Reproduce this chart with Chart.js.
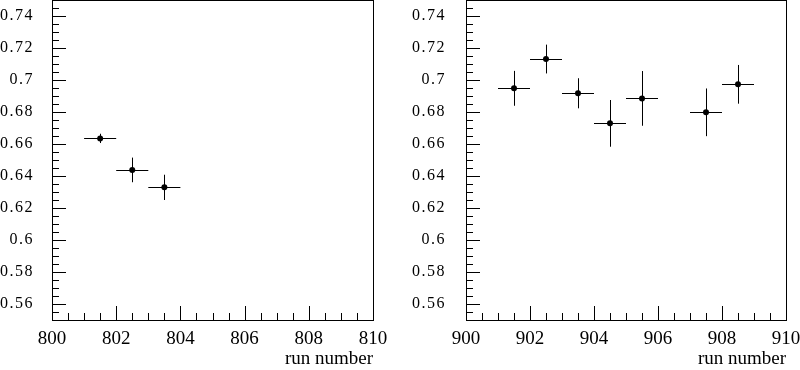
<!DOCTYPE html>
<html lang="en">
<head>
<meta charset="UTF-8">
<title>run number</title>
<script src="https://cdn.jsdelivr.net/npm/chart.js@4.4.1/dist/chart.umd.min.js"></script>
<style>
  body { margin: 0; background: #fff; overflow: hidden; }
  /* the library keeps a point-radius margin above the plot, shift it up by that */
  canvas { position: absolute; top: -3px; }
</style>
</head>
<body>

<canvas id="leftChart" width="400" height="373" style="left:0"></canvas>
<canvas id="rightChart" width="400" height="373" style="left:400px"></canvas>

<script>
// values
const yTicks = [0.56, 0.58, 0.6, 0.62, 0.64, 0.66, 0.68, 0.7, 0.72, 0.74];

const leftXTicks = [800, 802, 804, 806, 808, 810];
const leftRuns = [801.5, 802.5, 803.5];
const leftVals = [0.6635, 0.6438, 0.6329];
const leftErr = [0.0029, 0.0077, 0.0079];

const rightXTicks = [900, 902, 904, 906, 908, 910];
const rightRuns = [901.5, 902.5, 903.5, 904.5, 905.5, 907.5, 908.5];
const rightVals = [0.6948, 0.7131, 0.6917, 0.6729, 0.6885, 0.6798, 0.6973];
const rightErr = [0.0109, 0.0090, 0.0094, 0.0146, 0.0171, 0.0149, 0.0121];

const runHalfWidth = 0.5;

// frame, inward ticks and error bars
const framePlugin = {
  id: 'frame',
  beforeDatasetsDraw(chart) {
    const ctx = chart.ctx;
    const xs = chart.scales.x, ys = chart.scales.y;
    const ds = chart.data.datasets[0];
    ctx.save();
    ctx.strokeStyle = '#000';
    ctx.lineWidth = 1;
    ds.data.forEach((p, i) => {
      const px = Math.round(xs.getPixelForValue(p.x)) + 0.5;
      const py = Math.round(ys.getPixelForValue(p.y)) + 0.5;
      ctx.beginPath();
      ctx.moveTo(px, ys.getPixelForValue(p.y + ds.yErr[i]));
      ctx.lineTo(px, ys.getPixelForValue(p.y - ds.yErr[i]));
      ctx.moveTo(xs.getPixelForValue(p.x - runHalfWidth), py);
      ctx.lineTo(xs.getPixelForValue(p.x + runHalfWidth), py);
      ctx.stroke();
    });
    ctx.restore();
  },
  afterDraw(chart) {
    const ctx = chart.ctx;
    const a = chart.chartArea;
    const xs = chart.scales.x, ys = chart.scales.y;
    ctx.save();
    ctx.strokeStyle = '#000';
    ctx.lineWidth = 1;
    ctx.strokeRect(a.left + 0.5, a.top + 0.5, a.right - a.left, a.bottom - a.top);
    ctx.beginPath();
    for (let k = 0; k <= 40; k++) {
      const v = ys.min + k * 0.005;
      const major = yTicks.some(t => Math.abs(t - v) < 1e-6);
      const py = Math.round(ys.getPixelForValue(v)) + 0.5;
      ctx.moveTo(a.left, py);
      ctx.lineTo(a.left + (major ? 14 : 7), py);
    }
    const xTicks = chart.options.scales.x.majorTicks;
    for (let k = 0; k <= 20; k++) {
      const v = xs.min + k * 0.5;
      const major = xTicks.includes(v);
      const px = Math.round(xs.getPixelForValue(v)) + 0.5;
      ctx.moveTo(px, a.bottom);
      ctx.lineTo(px, a.bottom - (major ? 14 : 7));
    }
    ctx.stroke();
    ctx.restore();
  }
};

// y labels are set a bit wider in the original
function spaceLabels(s) {
  if (s._spaced) return;
  const draw = s.drawLabels.bind(s);
  s.drawLabels = area => {
    s.ctx.save();
    s.ctx.letterSpacing = '1.5px';
    draw(area);
    s.ctx.restore();
  };
  s._spaced = true;
}

function makePanel(id, runs, vals, errs, xTicks, axisWidth, labelPad, padRight) {
  return new Chart(document.getElementById(id), {
    type: 'scatter',
    data: {
      datasets: [{
        data: runs.map((r, i) => ({ x: r, y: vals[i] })),
        yErr: errs,
        pointRadius: 3,
        pointHoverRadius: 3,
        pointStyle: 'circle',
        pointBackgroundColor: '#000',
        pointBorderWidth: 0,
        borderWidth: 0,
        showLine: false
      }]
    },
    options: {
      responsive: false,
      animation: false,
      layout: { padding: { left: 0, right: padRight, top: 0, bottom: 0 } },
      plugins: { legend: { display: false }, tooltip: { enabled: false } },
      scales: {
        x: {
          type: 'linear',
          min: xTicks[0],
          max: xTicks[xTicks.length - 1],
          majorTicks: xTicks,
          grid: { display: false, drawTicks: false },
          border: { display: false },
          afterBuildTicks: s => { s.ticks = xTicks.map(v => ({ value: v })); },
          afterFit: s => { s.height = 50; s.paddingLeft = 0; s.paddingRight = 0; },
          ticks: {
            color: '#000',
            font: { family: 'Liberation Serif', size: 19 },
            padding: 8,
            maxRotation: 0,
            autoSkip: false,
            callback: v => String(v)
          },
          title: {
            display: true,
            text: 'run number',
            align: 'end',
            color: '#000',
            font: { family: 'Liberation Serif', size: 19 },
            padding: { top: 0, bottom: 0 }
          }
        },
        y: {
          min: 0.55,
          max: 0.75,
          grid: { display: false, drawTicks: false },
          border: { display: false },
          afterBuildTicks: s => { s.ticks = yTicks.map(v => ({ value: v })); },
          afterFit: s => {
            s.width = axisWidth; s.paddingTop = 0; s.paddingBottom = 0;
            spaceLabels(s);
          },
          ticks: {
            color: '#000',
            font: { family: 'Liberation Serif', size: 16 },
            padding: labelPad,
            callback: v => String(+v.toFixed(2))
          }
        }
      }
    },
    plugins: [framePlugin]
  });
}

makePanel('leftChart', leftRuns, leftVals, leftErr, leftXTicks, 52, 18, 27);
makePanel('rightChart', rightRuns, rightVals, rightErr, rightXTicks, 66, 20, 14);
</script>
</body>
</html>
